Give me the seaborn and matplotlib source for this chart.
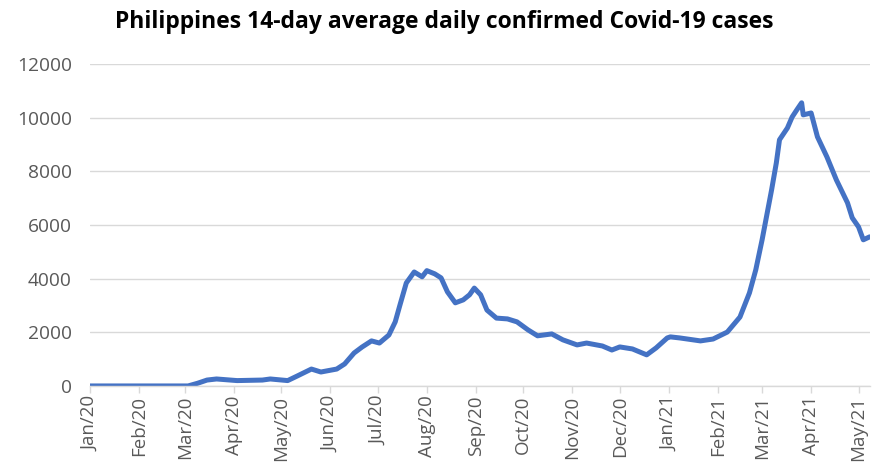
import matplotlib
matplotlib.use("Agg")
import matplotlib.pyplot as plt
import matplotlib.dates as mdates
import numpy as np
import pandas as pd
import seaborn as sns

# 14-day rolling average of daily confirmed cases
dates = [
    "2020-01-01", "2020-02-01", "2020-03-03", "2020-03-09", "2020-03-15",
    "2020-03-21", "2020-04-03", "2020-04-19", "2020-04-24", "2020-05-05",
    "2020-05-11", "2020-05-20", "2020-05-26", "2020-06-05", "2020-06-10",
    "2020-06-16", "2020-06-21", "2020-06-27", "2020-07-02", "2020-07-08",
    "2020-07-12", "2020-07-15", "2020-07-19", "2020-07-24", "2020-07-29",
    "2020-08-01", "2020-08-06", "2020-08-10", "2020-08-14", "2020-08-19",
    "2020-08-24", "2020-08-28", "2020-08-31", "2020-09-04", "2020-09-08",
    "2020-09-14", "2020-09-21", "2020-09-27", "2020-10-04", "2020-10-10",
    "2020-10-19", "2020-10-26", "2020-11-04", "2020-11-10", "2020-11-20",
    "2020-11-26", "2020-12-01", "2020-12-09", "2020-12-18", "2020-12-24",
    "2020-12-31", "2021-01-02", "2021-01-08", "2021-01-21", "2021-01-29",
    "2021-02-07", "2021-02-15", "2021-02-21", "2021-02-25", "2021-03-01",
    "2021-03-07", "2021-03-10", "2021-03-12", "2021-03-17", "2021-03-20",
    "2021-03-23", "2021-03-26", "2021-03-27", "2021-04-01", "2021-04-05",
    "2021-04-11", "2021-04-17", "2021-04-24", "2021-04-27", "2021-05-01",
    "2021-05-04", "2021-05-08",
]
cases = [
    0, 0, 0, 100, 220,
    260, 200, 220, 260, 200,
    370, 630, 520, 630, 820,
    1230, 1450, 1680, 1600, 1900,
    2390, 3020, 3840, 4250, 4070,
    4300, 4180, 4030, 3510, 3100,
    3210, 3400, 3650, 3400, 2830,
    2530, 2500, 2390, 2090, 1870,
    1940, 1720, 1530, 1600, 1490,
    1340, 1455, 1380, 1160, 1420,
    1790, 1830, 1790, 1680, 1750,
    2010, 2570, 3470, 4330, 5450,
    7310, 8320, 9180, 9620, 10030,
    10300, 10560, 10110, 10180, 9290,
    8540, 7680, 6830, 6270, 5930,
    5450, 5560,
]
y_ticks = [0, 2000, 4000, 6000, 8000, 10000, 12000]

df = pd.DataFrame({"date": pd.to_datetime(dates), "cases": cases})

sns.set_theme(style="white")
plt.rcParams["font.family"] = ["Open Sans", "DejaVu Sans"]

fig = plt.figure(figsize=(8.74, 4.65), dpi=100)
ax = fig.add_axes([0.103, 0.170, 0.892, 0.692])

sns.lineplot(data=df, x="date", y="cases", ax=ax, color="#4472C4",
             linewidth=3.6, solid_capstyle="round", solid_joinstyle="round")

ax.set_ylim(0, 12000)
ax.set_yticks(y_ticks)
ax.set_xlim(pd.Timestamp("2020-01-01"), pd.Timestamp("2021-05-08"))
ax.xaxis.set_major_locator(mdates.MonthLocator())
ax.xaxis.set_major_formatter(mdates.DateFormatter("%b/%y"))
ax.tick_params(axis="x", rotation=90, labelsize=13.5, labelcolor="#595959",
               color="#d9d9d9", length=5, width=1, direction="out",
               bottom=True, pad=2)
ax.tick_params(axis="y", labelsize=13.8, labelcolor="#595959", length=0, pad=13)

ax.grid(axis="y", color="#d9d9d9", linewidth=1)
ax.set_axisbelow(True)
for side in ["top", "right", "left"]:
    ax.spines[side].set_visible(False)
ax.spines["bottom"].set_color("#d9d9d9")
ax.spines["bottom"].set_linewidth(1)

ax.set_xlabel("")
ax.set_ylabel("")
fig.suptitle("Philippines 14-day average daily confirmed Covid-19 cases",
             x=0.508, y=0.978, fontsize=16.5, fontweight="bold", color="black")

fig.savefig("out.png", dpi=100, facecolor="white")
